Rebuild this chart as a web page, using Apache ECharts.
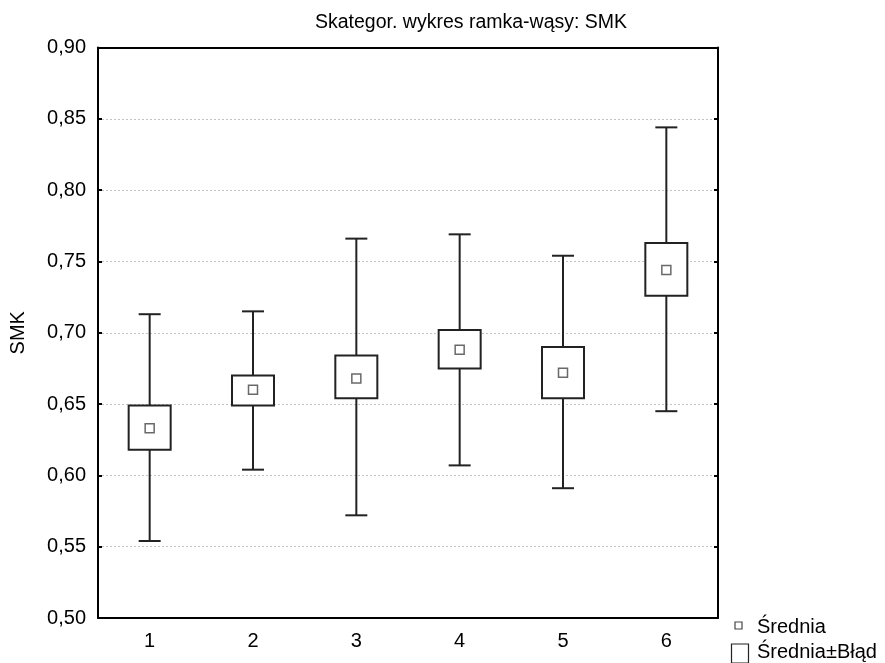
<!DOCTYPE html>
<html>
<head>
<meta charset="utf-8">
<script src="https://cdn.jsdelivr.net/npm/echarts@6/dist/echarts.min.js"></script>
<style>html,body{margin:0;padding:0;background:#fff}#c{width:885px;height:663px}</style>
</head>
<body>
<div id="c"></div>
<script>
var categories = ['1', '2', '3', '4', '5', '6'];
var means      = [0.633, 0.660, 0.668, 0.688, 0.672, 0.744];
var boxLow     = [0.618, 0.649, 0.654, 0.675, 0.654, 0.726];
var boxHigh    = [0.649, 0.670, 0.684, 0.702, 0.690, 0.763];
var whiskLow   = [0.554, 0.604, 0.572, 0.607, 0.591, 0.645];
var whiskHigh  = [0.713, 0.715, 0.766, 0.769, 0.754, 0.844];
var yTicks = {min: 0.50, max: 0.90, interval: 0.05};

var FONT = 'Liberation Sans, Arial, sans-serif';
var chart = echarts.init(document.getElementById('c'));
var boxData = categories.map(function (c, i) {
  return [i, whiskLow[i], boxLow[i], boxHigh[i], whiskHigh[i]];
});
function fmt(v) { return v.toFixed(2).replace('.', ','); }

chart.setOption({
  animation: false,
  backgroundColor: '#fff',
  title: {
    text: 'Skategor. wykres ramka-wąsy: SMK',
    left: 310, top: 8,
    textStyle: {fontFamily: FONT, fontSize: 19.5, fontWeight: 'normal', color: '#000'}
  },
  grid: {left: 97, top: 47.5, right: 167, bottom: 45},
  xAxis: [{
    type: 'category', data: categories, position: 'bottom',
    axisLine: {lineStyle: {color: '#000', width: 2}},
    axisTick: {inside: true, alignWithLabel: true, length: 4, lineStyle: {color: '#000', width: 2}},
    axisLabel: {fontFamily: FONT, fontSize: 20, color: '#000', margin: 13},
    splitLine: {show: false}
  }, {
    type: 'category', data: categories, position: 'top',
    axisLine: {lineStyle: {color: '#000', width: 2}},
    axisTick: {inside: true, alignWithLabel: true, length: 4, lineStyle: {color: '#000', width: 2}},
    axisLabel: {show: false}
  }],
  yAxis: [{
    type: 'value', min: yTicks.min, max: yTicks.max, interval: yTicks.interval,
    name: 'SMK', nameLocation: 'middle', nameGap: 70, nameRotate: 90,
    nameTextStyle: {fontFamily: FONT, fontSize: 20, color: '#000'},
    axisLine: {show: true, lineStyle: {color: '#000', width: 2}},
    axisTick: {show: true, inside: true, length: 4, lineStyle: {color: '#000', width: 2}},
    axisLabel: {fontFamily: FONT, fontSize: 20, color: '#000', margin: 12, formatter: fmt},
    splitLine: {show: true, lineStyle: {color: '#c4c4c4', type: [2, 2], width: 1}}
  }, {
    type: 'value', min: yTicks.min, max: yTicks.max, interval: yTicks.interval, position: 'right',
    axisLine: {show: true, lineStyle: {color: '#000', width: 2}},
    axisTick: {show: true, inside: true, length: 4, lineStyle: {color: '#000', width: 2}},
    axisLabel: {show: false},
    splitLine: {show: false}
  }],
  series: [{
    name: 'Średnia±Błąd',
    type: 'custom',
    data: boxData,
    encode: {x: 0, y: [1, 2, 3, 4]},
    renderItem: function (params, api) {
      var i = api.value(0);
      var pLow = api.coord([i, api.value(1)]);
      var pBl = api.coord([i, api.value(2)]);
      var pBh = api.coord([i, api.value(3)]);
      var pHigh = api.coord([i, api.value(4)]);
      var x = pLow[0];
      var bw = 42, cw = 22;
      var ls = {stroke: '#222', lineWidth: 2};
      return {
        type: 'group',
        children: [
          {type: 'line', shape: {x1: x, y1: pHigh[1], x2: x, y2: pBh[1]}, style: ls},
          {type: 'line', shape: {x1: x, y1: pBl[1], x2: x, y2: pLow[1]}, style: ls},
          {type: 'line', shape: {x1: x - cw / 2, y1: pHigh[1], x2: x + cw / 2, y2: pHigh[1]}, style: ls},
          {type: 'line', shape: {x1: x - cw / 2, y1: pLow[1], x2: x + cw / 2, y2: pLow[1]}, style: ls},
          {type: 'rect', shape: {x: x - bw / 2, y: pBh[1], width: bw, height: pBl[1] - pBh[1]},
           style: {fill: '#fff', stroke: '#222', lineWidth: 2}}
        ]
      };
    },
    z: 2
  }, {
    name: 'Średnia',
    type: 'scatter',
    data: means.map(function (m, i) { return [i, m]; }),
    symbol: 'rect', symbolSize: 9,
    itemStyle: {color: '#fff', borderColor: '#444', borderWidth: 1.5},
    z: 3
  }],
  graphic: [
    {type: 'rect', x: 735, y: 622, shape: {width: 7, height: 7},
     style: {fill: '#fff', stroke: '#444', lineWidth: 1.2}},
    {type: 'text', x: 757, y: 627, style: {text: 'Średnia', font: '20px ' + FONT, fill: '#000', verticalAlign: 'middle'}},
    {type: 'rect', x: 731.5, y: 644, shape: {width: 17, height: 19},
     style: {fill: '#fff', stroke: '#222', lineWidth: 1.2}},
    {type: 'text', x: 757, y: 652, style: {text: 'Średnia±Błąd', font: '20px ' + FONT, fill: '#000', verticalAlign: 'middle'}}
  ]
});
</script>
</body>
</html>
